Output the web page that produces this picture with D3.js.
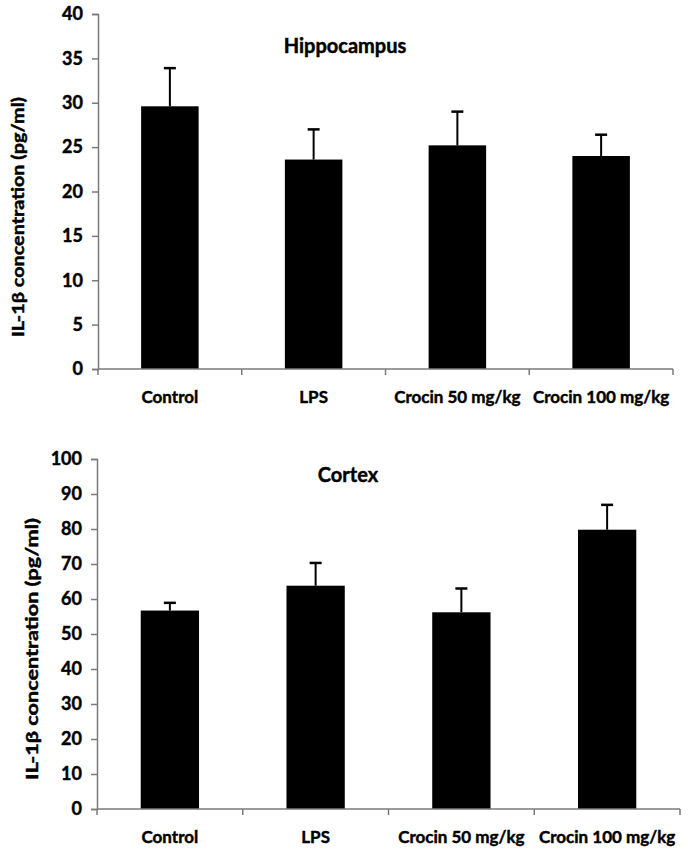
<!DOCTYPE html>
<html>
<head>
<meta charset="utf-8">
<script src="https://cdn.jsdelivr.net/npm/d3@7"></script>
<style>
  html, body { margin: 0; padding: 0; background: #fff; }
  svg { display: block; }
  text { font-family: Lato, "Open Sans", sans-serif; font-weight: bold; fill: #000; stroke: #000; stroke-width: 0.45px; }
</style>
</head>
<body>
<svg id="chart" width="688" height="849"></svg>
<script>
const categories = ["Control", "LPS", "Crocin 50 mg/kg", "Crocin 100 mg/kg"];
const hippoMean = [29.6, 23.6, 25.2, 24.0];
const hippoErr  = [4.3, 3.4, 3.8, 2.4];
const cortexMean = [56.7, 63.8, 56.2, 79.8];
const cortexErr  = [2.2, 6.5, 6.8, 7.1];
const hippoTicks = [0, 5, 10, 15, 20, 25, 30, 35, 40];
const cortexTicks = [0, 10, 20, 30, 40, 50, 60, 70, 80, 90, 100];
const yLabel = "IL-1\u03b2 concentration (pg/ml)";

const svg = d3.select("#chart");

function panel(opts) {
  const { title, means, errs, ticks, yMax, x0, x1, yTop, yBottom, titleX, titleY, labelBase, yLabelX, yLabelY, yLabelLen } = opts;
  const g = svg.append("g");
  const x = d3.scaleBand().domain(categories).range([x0, x1]).padding(0);
  const y = d3.scaleLinear().domain([0, yMax]).range([yBottom, yTop]);
  const barW = x.bandwidth() * 0.4;

  g.selectAll("rect.bar").data(categories).join("rect")
    .attr("class", "bar")
    .attr("x", d => x(d) + x.bandwidth() / 2 - barW / 2)
    .attr("width", barW)
    .attr("y", (d, i) => y(means[i]))
    .attr("height", (d, i) => y(0) - y(means[i]))
    .attr("fill", "#000");

  g.selectAll("line.err").data(categories).join("line")
    .attr("class", "err")
    .attr("x1", d => x(d) + x.bandwidth() / 2)
    .attr("x2", d => x(d) + x.bandwidth() / 2)
    .attr("y1", (d, i) => y(means[i]))
    .attr("y2", (d, i) => y(means[i] + errs[i]))
    .attr("stroke", "#000").attr("stroke-width", 2);
  g.selectAll("line.cap").data(categories).join("line")
    .attr("class", "cap")
    .attr("x1", d => x(d) + x.bandwidth() / 2 - 6)
    .attr("x2", d => x(d) + x.bandwidth() / 2 + 6)
    .attr("y1", (d, i) => y(means[i] + errs[i]))
    .attr("y2", (d, i) => y(means[i] + errs[i]))
    .attr("stroke", "#000").attr("stroke-width", 2.5);

  const yAxis = d3.axisLeft(y).tickValues(ticks).tickSize(6).tickPadding(9).tickFormat(d3.format("d"));
  const ya = g.append("g").attr("transform", `translate(${x0},0)`).call(yAxis);
  ya.attr("font-family", null).attr("font-size", null);
  ya.select(".domain").attr("stroke", "#7a7a7a").attr("stroke-width", 1.5);
  ya.selectAll(".tick line").attr("stroke", "#7a7a7a").attr("stroke-width", 1.5);
  ya.selectAll(".tick text").style("font-size", "18px").attr("fill", "#000");

  const xa = g.append("g").attr("transform", `translate(0,${yBottom})`);
  xa.append("line").attr("x1", x0).attr("x2", x1).attr("y1", 0).attr("y2", 0)
    .attr("stroke", "#7a7a7a").attr("stroke-width", 1.5);
  const bounds = categories.map(d => x(d)).concat([x1]);
  xa.selectAll("line.xt").data(bounds).join("line")
    .attr("class", "xt")
    .attr("x1", d => d).attr("x2", d => d).attr("y1", 0).attr("y2", 6)
    .attr("stroke", "#7a7a7a").attr("stroke-width", 1.5);
  xa.selectAll("text.xl").data(categories).join("text")
    .attr("class", "xl")
    .attr("x", d => x(d) + x.bandwidth() / 2)
    .attr("y", labelBase - yBottom)
    .attr("text-anchor", "middle")
    .style("font-size", "17px")
    .text(d => d);

  g.append("text").attr("x", titleX).attr("y", titleY).attr("text-anchor", "middle")
    .style("font-size", "20px").text(title);

  g.append("text")
    .attr("transform", `translate(${yLabelX},${yLabelY}) rotate(-90)`)
    .attr("text-anchor", "middle")
    .attr("dy", "0.35em")
    .attr("textLength", yLabelLen)
    .attr("lengthAdjust", "spacingAndGlyphs")
    .style("font-size", "17px")
    .text(yLabel);
}

panel({ title: "Hippocampus", means: hippoMean, errs: hippoErr, ticks: hippoTicks, yMax: 40,
  x0: 98, x1: 673, yTop: 14, yBottom: 369, titleX: 345, titleY: 53, labelBase: 403,
  yLabelX: 18, yLabelY: 217, yLabelLen: 240 });
panel({ title: "Cortex", means: cortexMean, errs: cortexErr, ticks: cortexTicks, yMax: 100,
  x0: 97, x1: 680, yTop: 459, yBottom: 809, titleX: 348, titleY: 482, labelBase: 843,
  yLabelX: 32, yLabelY: 649, yLabelLen: 262 });
</script>
</body>
</html>
